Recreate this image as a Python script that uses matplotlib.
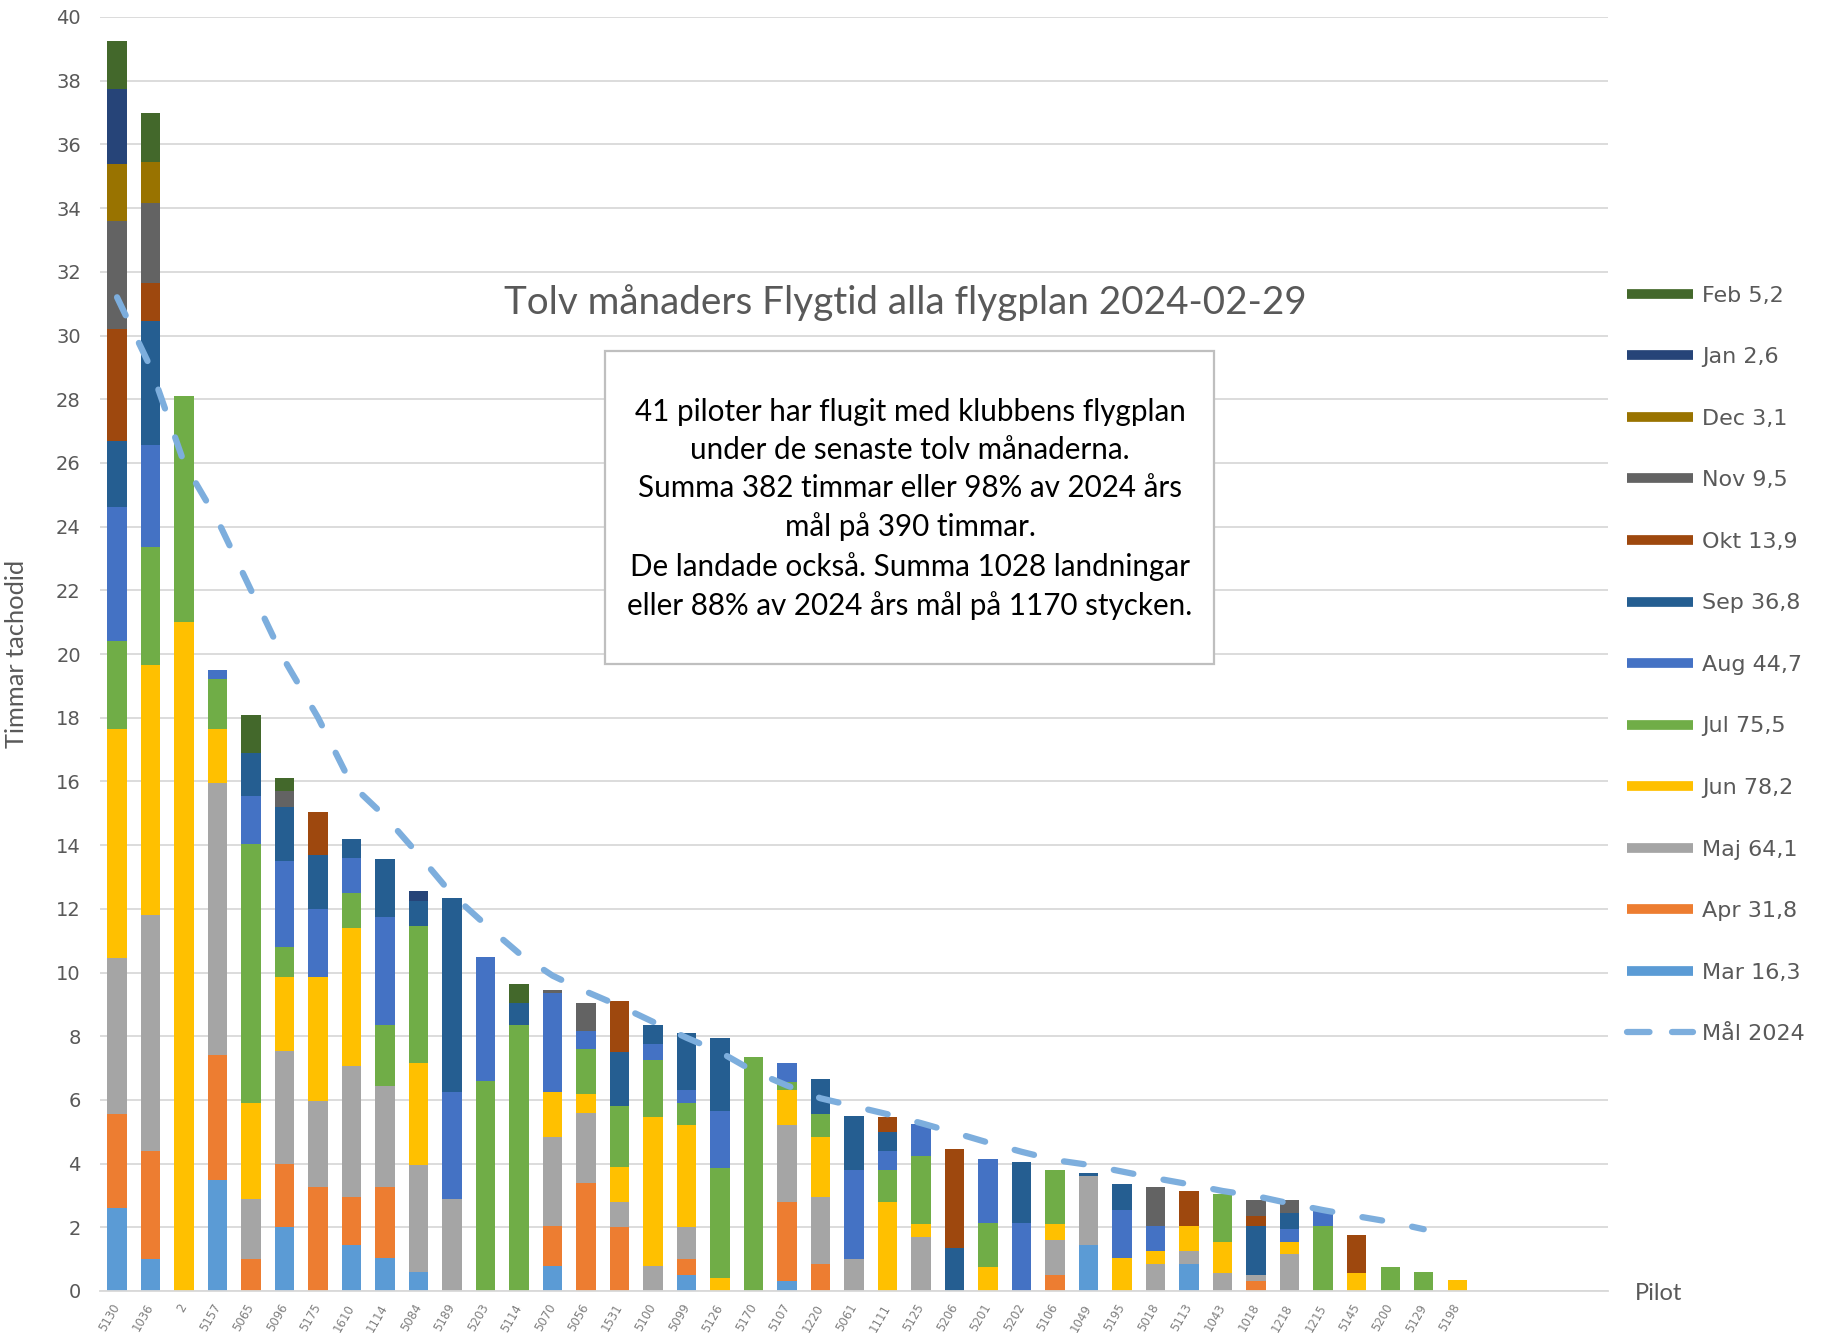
import matplotlib
matplotlib.use("Agg")
import matplotlib.pyplot as plt
from matplotlib.lines import Line2D
from matplotlib.patches import Rectangle
import numpy as np

pilots = ["5130", "1036", "2", "5157", "5065", "5096", "5175", "1610", "1114", "5084",
          "5189", "5203", "5114", "5070", "5056", "1531", "5100", "5099", "5126", "5170",
          "5107", "1220", "5061", "1111", "5125", "5206", "5201", "5202", "5106", "1049",
          "5195", "5018", "5113", "1043", "1018", "1218", "1215", "5145", "5200", "5129",
          "5198"]

mar = [2.6, 1.0, 0, 3.5, 0, 2.0, 0, 1.45, 1.05, 0.6,
       0, 0, 0, 0.8, 0, 0, 0, 0.5, 0, 0,
       0.3, 0, 0, 0, 0, 0, 0, 0, 0, 1.45,
       0, 0, 0.85, 0, 0, 0, 0, 0, 0, 0, 0]
apr = [2.95, 3.4, 0, 3.9, 1.0, 2.0, 3.25, 1.5, 2.2, 0,
       0, 0, 0, 1.25, 3.4, 2.0, 0, 0.5, 0, 0,
       2.5, 0.85, 0, 0, 0, 0, 0, 0, 0.5, 0,
       0, 0, 0, 0, 0.3, 0, 0, 0, 0, 0, 0]
maj = [4.9, 7.4, 0, 8.55, 1.9, 3.55, 2.7, 4.1, 3.2, 3.35,
       2.9, 0, 0, 2.8, 2.2, 0.8, 0.8, 1.0, 0, 0,
       2.4, 2.1, 1.0, 0, 1.7, 0, 0, 0, 1.1, 2.15,
       0, 0.85, 0.4, 0.55, 0.2, 1.15, 0, 0, 0, 0, 0]
jun = [7.2, 7.85, 21.0, 1.7, 3.0, 2.3, 3.9, 4.35, 0, 3.2,
       0, 0, 0, 1.4, 0.6, 1.1, 4.65, 3.2, 0.4, 0,
       1.1, 1.9, 0, 2.8, 0.4, 0, 0.75, 0, 0.5, 0,
       1.05, 0.4, 0.8, 1.0, 0, 0.4, 0, 0.55, 0, 0, 0.35]
jul = [2.75, 3.7, 7.1, 1.55, 8.15, 0.95, 0, 1.1, 1.9, 4.3,
       0, 6.6, 8.35, 0, 1.4, 1.9, 1.8, 0.7, 3.45, 7.35,
       0.25, 0.7, 0, 1.0, 2.15, 0, 1.4, 0, 1.7, 0,
       0, 0, 0, 1.5, 0, 0, 2.05, 0, 0.75, 0.6, 0]
aug = [4.2, 3.2, 0, 0.3, 1.5, 2.7, 2.15, 1.1, 3.4, 0,
       3.35, 3.9, 0, 3.1, 0.55, 0, 0.5, 0.4, 1.8, 0,
       0.6, 0, 2.8, 0.6, 1.0, 0, 2.0, 2.15, 0, 0,
       1.5, 0.8, 0, 0, 0, 0.4, 0.45, 0, 0, 0, 0]
sep = [2.1, 3.9, 0, 0, 1.35, 1.7, 1.7, 0.6, 1.8, 0.8,
       6.1, 0, 0.7, 0, 0, 1.7, 0.6, 1.8, 2.3, 0,
       0, 1.1, 1.7, 0.6, 0, 1.35, 0, 1.9, 0, 0.1,
       0.8, 0, 0, 0, 1.55, 0.5, 0, 0, 0, 0, 0]
okt = [3.5, 1.2, 0, 0, 0, 0, 1.35, 0, 0, 0,
       0, 0, 0, 0, 0, 1.6, 0, 0, 0, 0,
       0, 0, 0, 0.45, 0, 3.1, 0, 0, 0, 0,
       0, 0, 1.1, 0, 0.3, 0, 0, 1.2, 0, 0, 0]
nov = [3.4, 2.5, 0, 0, 0, 0.5, 0, 0, 0, 0,
       0, 0, 0, 0.1, 0.9, 0, 0, 0, 0, 0,
       0, 0, 0, 0, 0, 0, 0, 0, 0, 0,
       0, 1.2, 0, 0, 0.5, 0.4, 0, 0, 0, 0, 0]
dec = [1.8, 1.3, 0, 0, 0, 0, 0, 0, 0, 0,
       0, 0, 0, 0, 0, 0, 0, 0, 0, 0,
       0, 0, 0, 0, 0, 0, 0, 0, 0, 0,
       0, 0, 0, 0, 0, 0, 0, 0, 0, 0, 0]
jan = [2.35, 0, 0, 0, 0, 0, 0, 0, 0, 0.3,
       0, 0, 0, 0, 0, 0, 0, 0, 0, 0,
       0, 0, 0, 0, 0, 0, 0, 0, 0, 0,
       0, 0, 0, 0, 0, 0, 0, 0, 0, 0, 0]
feb = [1.5, 1.55, 0, 0, 1.2, 0.4, 0, 0, 0, 0,
       0, 0, 0.6, 0, 0, 0, 0, 0, 0, 0,
       0, 0, 0, 0, 0, 0, 0, 0, 0, 0,
       0, 0, 0, 0, 0, 0, 0, 0, 0, 0, 0]

goal = [31.2, 29.0, 26.0, 24.2, 22.0, 19.8, 18.0, 15.9, 14.9, 13.7,
        12.45, 11.5, 10.6, 9.9, 9.4, 8.95, 8.45, 7.95, 7.5, 6.9,
        6.45, 6.05, 5.8, 5.55, 5.27, 4.97, 4.66, 4.37, 4.11, 3.96,
        3.75, 3.54, 3.35, 3.14, 2.98, 2.75, 2.54, 2.35, 2.17, 1.94]

month_labels = ["Mar 16,3", "Apr 31,8", "Maj 64,1", "Jun 78,2", "Jul 75,5", "Aug 44,7",
                "Sep 36,8", "Okt 13,9", "Nov 9,5", "Dec 3,1", "Jan 2,6", "Feb 5,2"]
goal_label = "Mål 2024"
month_colors = ["#5B9BD5", "#ED7D31", "#A5A5A5", "#FFC000", "#70AD47", "#4472C4",
                "#255E91", "#9E480E", "#636363", "#997300", "#264478", "#43682B"]
goal_color = "#7DAEDD"

title = "Tolv månaders Flygtid alla flygplan 2024-02-29"
note = ("41 piloter har flugit med klubbens flygplan\n"
        "under de senaste tolv månaderna.\n"
        "Summa 382 timmar eller 98% av 2024 års\n"
        "mål på 390 timmar.\n"
        "De landade också. Summa 1028 landningar\n"
        "eller 88% av 2024 års mål på 1170 stycken.")
ylabel = "Timmar tachodid"
xlabel = "Pilot"

series = [mar, apr, maj, jun, jul, aug, sep, okt, nov, dec, jan, feb]

W, H = 1822, 1333
fig = plt.figure(figsize=(W / 100, H / 100), dpi=100)
ax = fig.add_axes([100.3 / W, 1 - 1291 / H, (1608 - 100.3) / W, (1291 - 17) / H])

x = np.arange(len(pilots))
bottom = np.zeros(len(pilots))
for vals, col in zip(series, month_colors):
    v = np.array(vals, dtype=float)
    ax.bar(x, v, 0.58, bottom=bottom, color=col, zorder=2, linewidth=0)
    bottom += v

ax.plot(np.arange(len(goal)), goal, color=goal_color, lw=4.5,
        dashes=(3.2, 4.9), dash_capstyle="round", zorder=3)

ax.set_xlim(-0.5, len(pilots) + 3.5)
ax.set_ylim(0, 40)
ax.set_yticks(np.arange(0, 41, 2))
ax.set_xticks(x)
ax.set_xticklabels(pilots, rotation=60, ha="right", va="center", rotation_mode="anchor",
                   fontsize=8.5, color="#7F7F7F", family="DejaVu Sans")
ax.tick_params(axis="x", length=0, pad=10)
ax.tick_params(axis="y", length=0, pad=14, labelsize=14, labelcolor="#595959")
for lab in ax.get_yticklabels():
    lab.set_family("DejaVu Sans")
ax.yaxis.grid(True, color="#D9D9D9", lw=1.3, zorder=0)
ax.set_axisbelow(True)
for s in ["top", "right", "left"]:
    ax.spines[s].set_visible(False)
ax.spines["bottom"].set_color("#D9D9D9")
ax.spines["bottom"].set_linewidth(1.3)

# title
fig.text(905 / W, 1 - 303 / H, title, ha="center", va="center", fontsize=27.8,
         color="#595959", family="Lato")

# note box
fig.patches.append(Rectangle((605 / W, 1 - 664 / H), (1214 - 605) / W, (664 - 351) / H,
                             transform=fig.transFigure, facecolor="white",
                             edgecolor="#BFBFBF", lw=1.6, zorder=5))
fig.text(910 / W, 1 - 509 / H, note, ha="center", va="center", fontsize=21.3,
         color="black", family="Lato", linespacing=1.43, zorder=6)

# axis labels
fig.text(17 / W, 1 - 654 / H, ylabel, rotation=90, ha="center", va="center",
         fontsize=18.3, color="#595959", family="Lato")
fig.text(1635 / W, 1 - 1293 / H, xlabel, ha="left", va="center",
         fontsize=17, color="#595959", family="Lato")

# legend
handles = []
labels = []
for lab, col in list(zip(month_labels, month_colors))[::-1]:
    handles.append(Line2D([0], [0], color=col, lw=7, solid_capstyle="butt"))
    labels.append(lab)
handles.append(Line2D([0], [0], color=goal_color, lw=4.5, dashes=(3.6, 3.6),
                      dash_capstyle="round"))
labels.append(goal_label)
leg = fig.legend(handles, labels, loc="upper left", bbox_to_anchor=(1627 / W, 1 - 285.5 / H),
                 frameon=False, borderpad=0, borderaxespad=0, handlelength=2.97,
                 handletextpad=0.4, labelspacing=1.87,
                 prop={"family": "DejaVu Sans", "size": 16})
for t in leg.get_texts():
    t.set_color("#595959")

fig.savefig("out.png", dpi=100)
